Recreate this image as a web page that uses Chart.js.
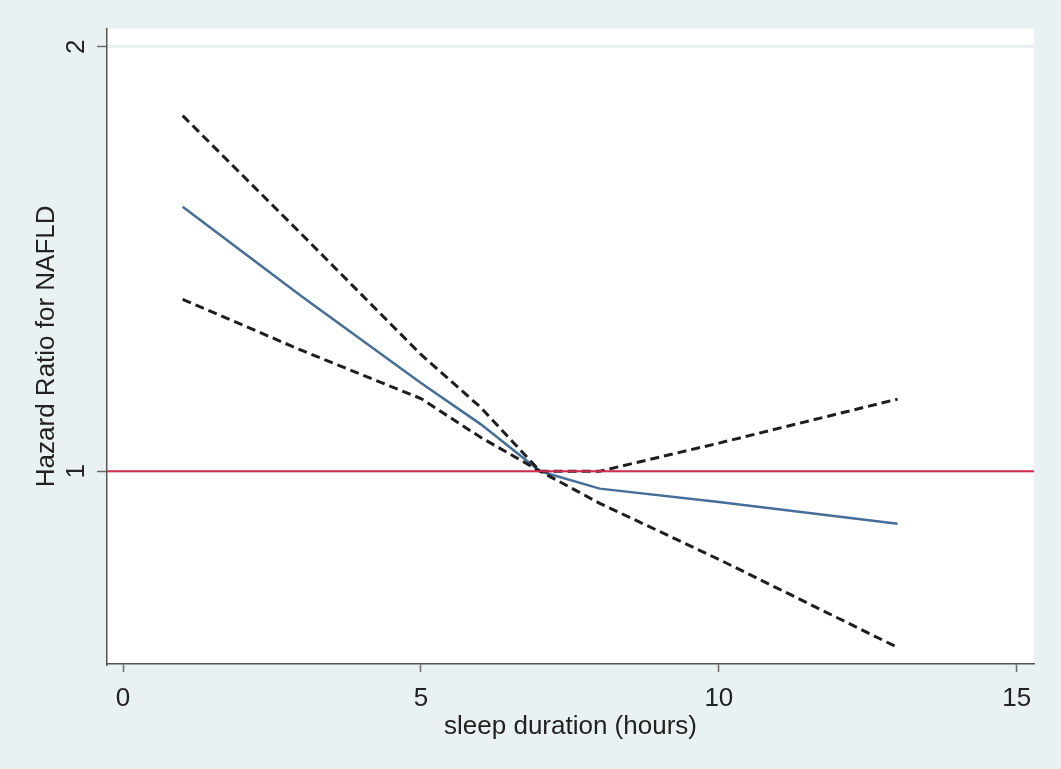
<!DOCTYPE html>
<html>
<head>
<meta charset="utf-8">
<script src="https://cdn.jsdelivr.net/npm/chart.js@4/dist/chart.umd.min.js"></script>
<style>
  html, body { margin: 0; padding: 0; background: #E9F1F3; }
  #wrap { width: 1061px; height: 769px; }
</style>
</head>
<body>
<div id="wrap"><canvas id="hrChart"></canvas></div>
<script>
// sleep duration (hours)
var hours = [1, 3, 5, 6, 7, 8, 10, 13];
var hazardRatio = [1.54, 1.33, 1.155, 1.08, 1.0, 0.972, 0.951, 0.918];
var upperCI = [1.787, 1.472, 1.21, 1.11, 1.0, 1.0, 1.047, 1.125];
var lowerCI = [1.324, 1.218, 1.126, 1.057, 1.0, 0.949, 0.866, 0.75];
var xTicks = [0, 5, 10, 15];
var yTicks = [1, 2];
var refLine = 1;
var xMin = -0.27, xMax = 15.29;
var yMin = 0.73, yMax = 2.06;

function pts(ys) {
    return hours.map(function (h, i) { return {x: h, y: ys[i]}; });
}

var font = "'Liberation Sans', Arial, sans-serif";

var background = {
    id: 'background',
    beforeDraw: function (chart) {
        var c = chart.ctx, a = chart.chartArea;
        c.save();
        c.fillStyle = '#E9F1F3';
        c.fillRect(0, 0, chart.width, chart.height);
        c.fillStyle = '#FFFFFF';
        c.fillRect(a.left, a.top, a.right - a.left, a.bottom - a.top);
        c.restore();
    }
};

var ctx = document.getElementById('hrChart').getContext('2d');
var chart = new Chart(ctx, {
    type: 'line',
    data: {
        datasets: [{
            label: 'reference',
            data: [{x: xMin, y: refLine}, {x: xMax, y: refLine}],
            borderColor: '#D42A50',
            borderWidth: 2
        }, {
            label: 'upper',
            data: pts(upperCI),
            borderColor: '#1E1E1E',
            borderWidth: 3,
            borderDash: [9, 5]
        }, {
            label: 'lower',
            data: pts(lowerCI),
            borderColor: '#1E1E1E',
            borderWidth: 3,
            borderDash: [9, 5]
        }, {
            label: 'hazard ratio',
            data: pts(hazardRatio),
            borderColor: '#456E98',
            borderWidth: 2.5
        }]
    },
    options: {
        responsive: true,
        maintainAspectRatio: false,
        animation: false,
        layout: { padding: { left: 0, right: 27, top: 28, bottom: 0 } },
        elements: {
            point: { radius: 0 },
            line: { tension: 0, fill: false }
        },
        plugins: {
            legend: { display: false },
            tooltip: { enabled: false }
        },
        scales: {
            x: {
                type: 'linear',
                min: xMin,
                max: xMax,
                afterBuildTicks: function (s) {
                    s.ticks = xTicks.map(function (v) { return {value: v}; });
                },
                afterFit: function (s) { s.height = 105; },
                grid: {
                    drawOnChartArea: false,
                    tickLength: 8,
                    tickColor: '#6A6A6A',
                    tickWidth: 1.5
                },
                border: { color: '#555555', width: 1.5 },
                ticks: {
                    padding: 11,
                    maxRotation: 0,
                    color: '#222222',
                    font: { family: font, size: 26 }
                },
                title: {
                    display: true,
                    text: 'sleep duration (hours)',
                    color: '#222222',
                    font: { family: font, size: 26 },
                    padding: { top: 0, bottom: 27 }
                }
            },
            y: {
                type: 'logarithmic',
                bounds: 'data',
                min: yMin,
                max: yMax,
                afterBuildTicks: function (s) {
                    s.ticks = yTicks.map(function (v) { return {value: v}; });
                },
                afterFit: function (s) { s.width = 107; },
                grid: {
                    color: '#EBF0F2',
                    lineWidth: 3,
                    tickLength: 10,
                    tickColor: '#6A6A6A',
                    tickWidth: 1.5
                },
                border: { color: '#555555', width: 1.5 },
                ticks: {
                    minRotation: 90,
                    maxRotation: 90,
                    crossAlign: 'center',
                    padding: 13,
                    color: '#222222',
                    font: { family: font, size: 26 },
                    callback: function (v) { return String(v); }
                },
                title: {
                    display: true,
                    text: 'Hazard Ratio for NAFLD',
                    color: '#222222',
                    font: { family: font, size: 26 },
                    padding: { top: 31, bottom: 0 }
                }
            }
        }
    },
    plugins: [background]
});
</script>
</body>
</html>
